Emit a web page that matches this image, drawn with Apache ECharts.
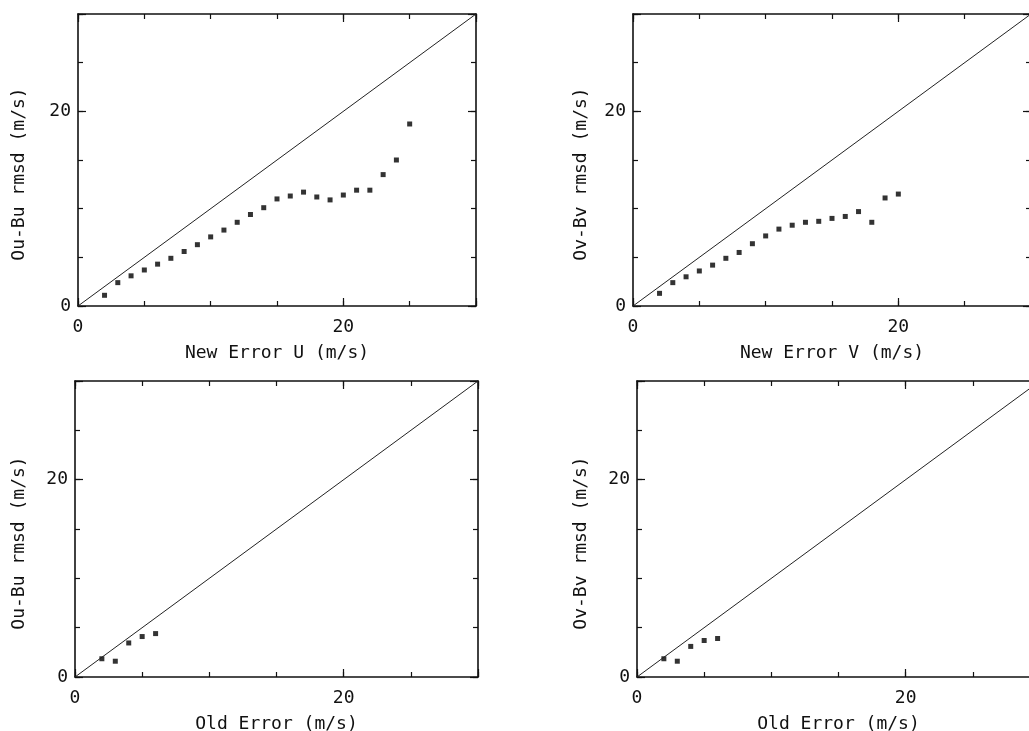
<!DOCTYPE html>
<html>
<head>
<meta charset="utf-8">
<script src="https://cdn.jsdelivr.net/npm/echarts@6/dist/echarts.min.js"></script>
<style>
html,body{margin:0;padding:0;background:#fff;}
#chart{width:1029px;height:731px;}
</style>
</head>
<body>
<div id="chart"></div>
<script>
// ---- data ----
const xNewU = [2,3,4,5,6,7,8,9,10,11,12,13,14,15,16,17,18,19,20,21,22,23,24,25];
const yOuBuNew = [1.1,2.4,3.1,3.7,4.3,4.9,5.6,6.3,7.1,7.8,8.6,9.4,10.1,11.0,11.3,11.7,11.2,10.9,11.4,11.9,11.9,13.5,15.0,18.7];
const xNewV = [2,3,4,5,6,7,8,9,10,11,12,13,14,15,16,17,18,19,20];
const yOvBvNew = [1.3,2.4,3.0,3.6,4.2,4.9,5.5,6.4,7.2,7.9,8.3,8.6,8.7,9.0,9.2,9.7,8.6,11.1,11.5];
const xOldU = [2,3,4,5,6];
const yOuBuOld = [1.85,1.6,3.45,4.1,4.4];
const xOldV = [2,3,4,5,6];
const yOvBvOld = [1.85,1.6,3.1,3.7,3.9];
const diag = [0,30];
const axisMin = 0, axisMax = 30, majorStep = 20, minorStep = 5;
const xTitles = ['New Error U (m/s)','New Error V (m/s)','Old Error (m/s)','Old Error (m/s)'];
const yTitles = ['Ou-Bu rmsd (m/s)','Ov-Bv rmsd (m/s)','Ou-Bu rmsd (m/s)','Ov-Bv rmsd (m/s)'];

const panels = [
  {xs:xNewU, ys:yOuBuNew, grid:{left:78, top:14, width:398, height:292}, yGap:50},
  {xs:xNewV, ys:yOvBvNew, grid:{left:633, top:14, width:398, height:292}, yGap:43},
  {xs:xOldU, ys:yOuBuOld, grid:{left:75, top:381, width:403, height:296}, yGap:47},
  {xs:xOldV, ys:yOvBvOld, grid:{left:637, top:381, width:403, height:296}, yGap:47}
];

const FONT = 'DejaVu Sans Mono';
const grids = [], xAxes = [], yAxes = [], series = [];

function axisBase(gi, pos, major, showLine) {
  return {
    type:'value', gridIndex:gi, position:pos, min:axisMin, max:axisMax,
    interval: major ? majorStep : minorStep,
    splitLine:{show:false},
    axisLine:{show:showLine, onZero:false, lineStyle:{color:'#111', width:1.6}},
    axisTick:{show:true, inside:true, length: major ? 8 : 5, lineStyle:{color:'#111', width:1.2}},
    axisLabel:{show:false}
  };
}

panels.forEach((p, i) => {
  grids.push(Object.assign({containLabel:false, outerBoundsMode:'none'}, p.grid));
  const xb = axisBase(i,'bottom',true,true);
  xb.axisLabel = {show:true, margin:12, color:'#111', fontFamily:FONT, fontSize:18,
    formatter: v => (v % majorStep === 0 ? String(v) : '')};
  xb.name = xTitles[i]; xb.nameLocation='middle'; xb.nameGap = 38;
  xb.nameTextStyle = {color:'#111', fontFamily:FONT, fontSize:18};
  xAxes.push(xb);
  xAxes.push(axisBase(i,'bottom',false,false));
  xAxes.push(axisBase(i,'top',true,true));
  xAxes.push(axisBase(i,'top',false,false));
  const yl = axisBase(i,'left',true,true);
  yl.axisLabel = {show:true, margin:7, color:'#111', fontFamily:FONT, fontSize:18,
    formatter: v => (v % majorStep === 0 ? String(v) : '')};
  yl.name = yTitles[i]; yl.nameLocation='middle'; yl.nameGap = p.yGap; yl.nameRotate = 90;
  yl.nameTextStyle = {color:'#111', fontFamily:FONT, fontSize:18, padding:[0,28,0,0]};
  yAxes.push(yl);
  yAxes.push(axisBase(i,'left',false,false));
  yAxes.push(axisBase(i,'right',true,true));
  yAxes.push(axisBase(i,'right',false,false));

  series.push({
    type:'line', xAxisIndex:4*i, yAxisIndex:4*i, silent:true, symbol:'none',
    lineStyle:{color:'#222', width:1},
    data: diag.map(v => [v, v])
  });
  series.push({
    type:'scatter', xAxisIndex:4*i, yAxisIndex:4*i, silent:true,
    symbol:'rect', symbolSize:5, itemStyle:{color:'#000'},
    data: p.xs.map((x, k) => [x, p.ys[k]])
  });
});

const chart = echarts.init(document.getElementById('chart'), null, {renderer:'canvas'});
chart.setOption({
  animation:false,
  backgroundColor:'#fff',
  grid:grids, xAxis:xAxes, yAxis:yAxes, series:series
});
</script>
</body>
</html>
